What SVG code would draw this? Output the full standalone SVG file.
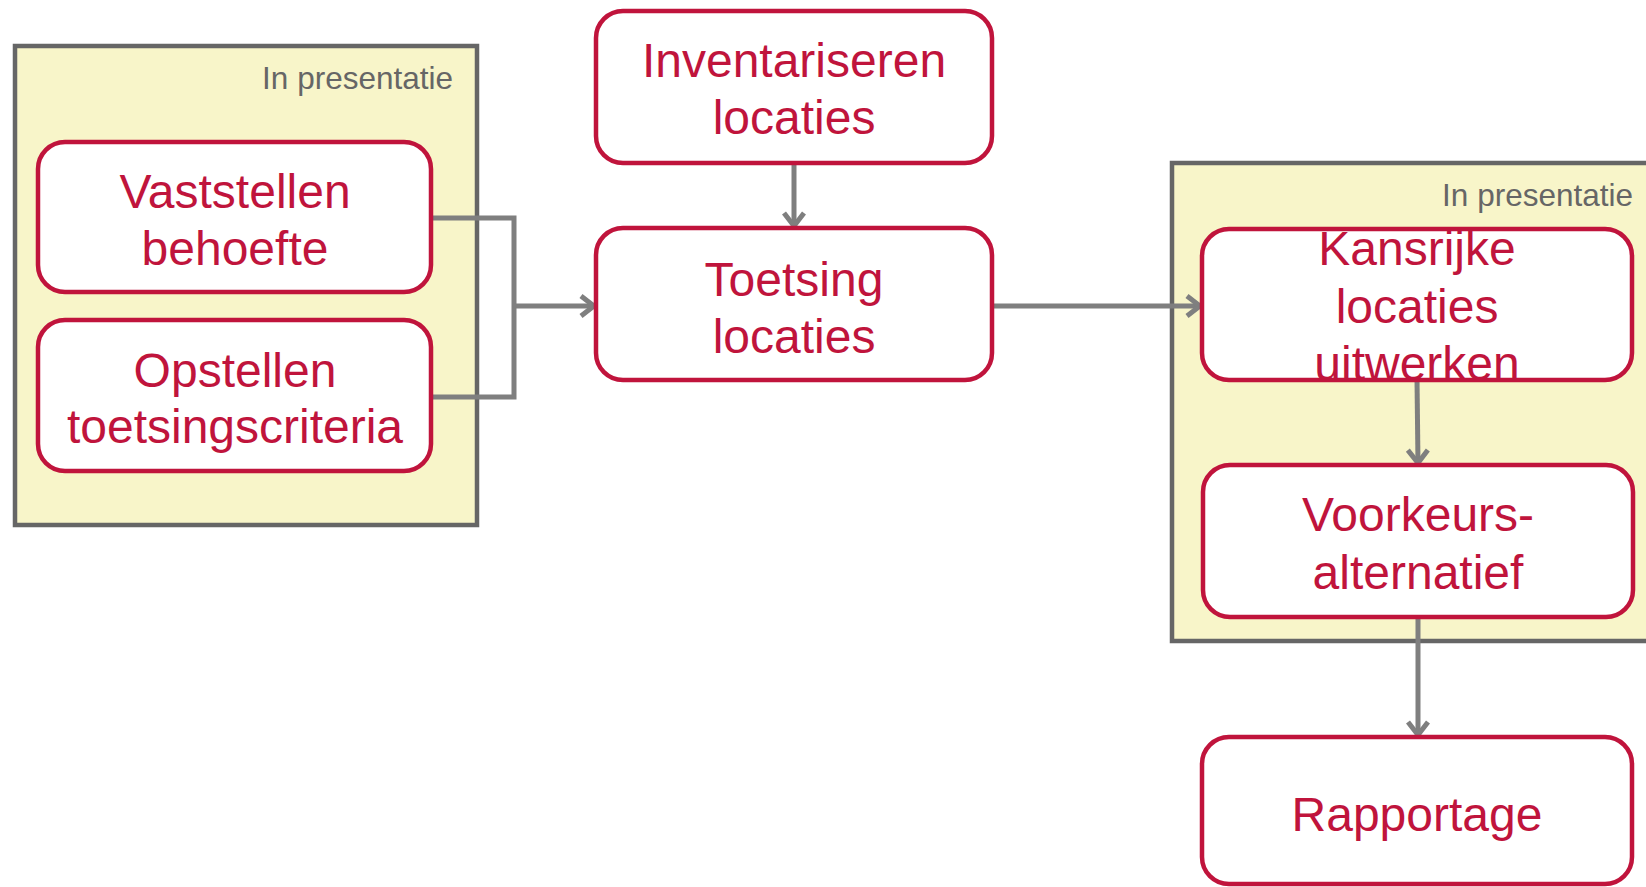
<svg xmlns="http://www.w3.org/2000/svg" width="1646" height="887" viewBox="0 0 1646 887">
<style>
.container{fill:#F8F5C9;stroke:#666666;stroke-width:4.5}
.box{fill:#FFFFFF;stroke:#C0143C;stroke-width:4.5}
.lbl{font-family:"Liberation Sans",Arial,sans-serif;font-size:48px;fill:#C0143C;text-anchor:middle}
.pres{font-family:"Liberation Sans",Arial,sans-serif;font-size:31.5px;fill:#666666;text-anchor:end}
.conn{fill:none;stroke:#7F7F7F;stroke-width:5}
</style>
<defs>
<marker id="arr" markerUnits="userSpaceOnUse" markerWidth="30" markerHeight="30" viewBox="0 0 30 30" refX="26" refY="15" orient="auto">
<path d="M13,5 L26,15 L13,25" fill="none" stroke="#7F7F7F" stroke-width="5" stroke-linejoin="miter"/>
</marker>
</defs>
<rect width="1646" height="887" fill="#FFFFFF"/>
<g id="group-left">
<rect class="container" x="15" y="46" width="462" height="479"/>
<text class="pres" x="453" y="89">In presentatie</text>
</g>
<g id="group-right">
<rect class="container" x="1172" y="163" width="490" height="478"/>
<text class="pres" x="1633" y="206">In presentatie</text>
</g>
<g id="connectors">
<path class="conn" d="M431,218 H514 V397 H431"/>
<path class="conn" d="M514,306 H594" marker-end="url(#arr)"/>
<path class="conn" d="M794,163 V226" marker-end="url(#arr)"/>
<path class="conn" d="M992,306 H1200" marker-end="url(#arr)"/>
<path class="conn" d="M1417,380 L1418,463" marker-end="url(#arr)"/>
<path class="conn" d="M1418,617 V735" marker-end="url(#arr)"/>
</g>
<g id="node-vaststellen">
<rect class="box" x="38" y="142" width="393" height="150" rx="27"/>
<text class="lbl" x="235" y="208">Vaststellen</text>
<text class="lbl" x="235" y="265">behoefte</text>
</g>
<g id="node-opstellen">
<rect class="box" x="38" y="320" width="393" height="151" rx="27"/>
<text class="lbl" x="235" y="387">Opstellen</text>
<text class="lbl" x="235" y="443">toetsingscriteria</text>
</g>
<g id="node-inventariseren">
<rect class="box" x="596" y="11" width="396" height="152" rx="27"/>
<text class="lbl" x="794" y="77">Inventariseren</text>
<text class="lbl" x="794" y="134">locaties</text>
</g>
<g id="node-toetsing">
<rect class="box" x="596" y="228" width="396" height="152" rx="27"/>
<text class="lbl" x="794" y="296">Toetsing</text>
<text class="lbl" x="794" y="353">locaties</text>
</g>
<g id="node-kansrijke">
<rect class="box" x="1202" y="229" width="430" height="151" rx="27"/>
<text class="lbl" x="1417" y="265">Kansrijke</text>
<text class="lbl" x="1417" y="323">locaties</text>
<text class="lbl" x="1417" y="380">uitwerken</text>
</g>
<g id="node-voorkeurs">
<rect class="box" x="1203" y="465" width="430" height="152" rx="27"/>
<text class="lbl" x="1418" y="531">Voorkeurs-</text>
<text class="lbl" x="1418" y="589">alternatief</text>
</g>
<g id="node-rapportage">
<rect class="box" x="1202" y="737" width="430" height="147" rx="27"/>
<text class="lbl" x="1417" y="831">Rapportage</text>
</g>
</svg>
